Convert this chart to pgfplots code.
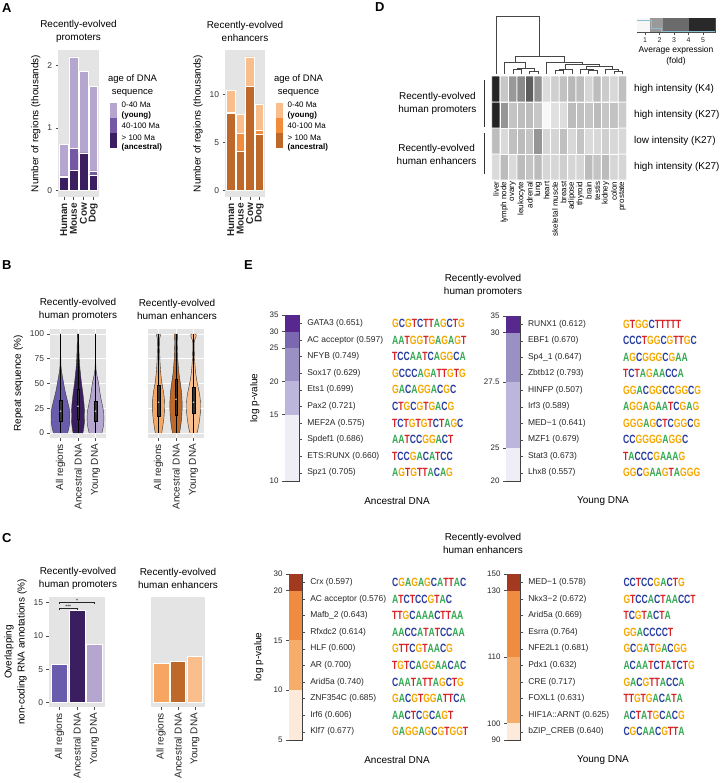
\documentclass[border=0pt]{standalone}
\usepackage{fontspec}
\setmainfont{Liberation Sans}
\newfontfamily\logofont[FakeStretch=0.72]{Liberation Sans}
\usepackage{pgfplots}
\pgfplotsset{compat=1.18}
\usepackage{pgfplotstable}

\newcommand\fs[1]{\fontsize{#1}{\fpeval{1.3*#1}}\selectfont}

\definecolor{panel}{HTML}{E4E4E4}
\definecolor{pY}{RGB}{180,166,206}
\definecolor{pM}{RGB}{117,88,165}
\definecolor{pA}{RGB}{58,30,96}
\definecolor{pAll}{RGB}{106,92,172}
\definecolor{eY}{RGB}{249,190,140}
\definecolor{eM}{RGB}{243,140,58}
\definecolor{eA}{RGB}{190,104,42}
\definecolor{eAll}{RGB}{247,166,98}
\definecolor{pb1}{HTML}{EFEDF5}
\definecolor{pb2}{HTML}{BCB6DC}
\definecolor{pb3}{HTML}{9A90C4}
\definecolor{pb4}{HTML}{7A69B0}
\definecolor{pb5}{HTML}{57298F}
\definecolor{eb1}{HTML}{FDEADB}
\definecolor{eb2}{HTML}{F6AD6C}
\definecolor{eb3}{HTML}{F08C3F}
\definecolor{eb4}{HTML}{A33A20}
\definecolor{lA}{RGB}{52,168,83}
\definecolor{lC}{RGB}{40,60,160}
\definecolor{lG}{RGB}{245,168,0}
\definecolor{lT}{RGB}{214,35,40}

% sequence logo letters
\newcommand\lgA{\textcolor{lA}{A}}
\newcommand\lgC{\textcolor{lC}{C}}
\newcommand\lgG{\textcolor{lG}{G}}
\newcommand\lgT{\textcolor{lT}{T}}
\def\lg#1{\ifx\relax#1\else\csname lg#1\endcsname\expandafter\lg\fi}

\tikzset{logo/.style={anchor=west, inner sep=0pt, font=\logofont\bfseries\fs{12}}}

\pgfplotsset{
  /pgf/number format/assume math mode=true,
  gg/.style={scale only axis, axis background/.style={fill=panel},
    axis line style={draw=none}, tick align=outside, tick pos=left,
    major tick length=2.5bp, tick style={gray!60!black, line width=0.5bp},
    yticklabel style={font=\fs{8.5}, text=gray!40!black},
    xticklabel style={rotate=90, anchor=east, font=\fs{10}, text=black!85},
    ylabel style={font=\fs{10}}},
  ebar/.style={scale only axis, ybar stacked, bar width=1, xmin=0, xmax=1,
    ymin=0, ymax=10, xtick=\empty, axis line style={gray!50!black, line width=0.6bp},
    tick align=outside, ytick pos=left, major tick length=3bp,
    tick style={gray!60!black, line width=0.4bp},
    yticklabel style={font=\fs{8}, text=gray!30!black},
    extra y ticks={0.5,1.5,2.5,3.5,4.5,5.5,6.5,7.5,8.5,9.5},
    extra y tick style={ytick pos=right, yticklabel pos=right,
      yticklabel style={font=\fs{8.5}, text=black!85, xshift=1.5bp}},
    clip=false,
    ylabel style={font=\fs{10}, at={(axis description cs:0,0.5)}, anchor=south, yshift=22bp}},
}

% violin half-widths (category units) against repeat sequence (%)
\pgfplotstableread{
y   pa    pn    py    ea    en    ey
0   0.40  0.28  0.36  0.18  0.20  0.20
5   0.48  0.33  0.43  0.23  0.25  0.27
10  0.52  0.36  0.47  0.27  0.29  0.32
15  0.53  0.37  0.48  0.31  0.32  0.36
20  0.53  0.37  0.47  0.33  0.34  0.39
25  0.50  0.36  0.43  0.34  0.35  0.40
30  0.43  0.34  0.37  0.34  0.35  0.40
35  0.36  0.31  0.31  0.33  0.34  0.38
40  0.29  0.28  0.26  0.30  0.32  0.34
45  0.23  0.24  0.22  0.25  0.29  0.28
50  0.18  0.20  0.18  0.20  0.25  0.22
55  0.13  0.17  0.12  0.16  0.21  0.17
60  0.08  0.14  0.06  0.13  0.17  0.13
65  0.04  0.11  0.025 0.11  0.14  0.10
70  0.02  0.09  0.015 0.09  0.12  0.08
75  0.018 0.07  0.013 0.08  0.10  0.06
80  0.015 0.06  0.012 0.07  0.09  0.05
85  0.013 0.05  0.011 0.06  0.08  0.04
90  0.012 0.045 0.010 0.05  0.07  0.04
93  0.011 0.042 0.010 0.045 0.07  0.05
95  0.011 0.04  0.010 0.06  0.08  0.09
97  0.010 0.04  0.010 0.09  0.10  0.14
99  0.010 0.04  0.010 0.11  0.10  0.16
100 0.010 0.04  0.010 0.08  0.09  0.10
}\violins

% one violin: #1 position, #2 column of half-widths, #3 colour
\newcommand\violin[3]{%
  \addplot[fill=#3, draw=none] table[x expr=#1+\thisrow{#2}, y=y] {\violins}
    -- (axis cs:#1,100) -- (axis cs:#1,0) -- cycle;
  \addplot[fill=#3, draw=none] table[x expr=#1-\thisrow{#2}, y=y] {\violins}
    -- (axis cs:#1,100) -- (axis cs:#1,0) -- cycle;
  \addplot[black!80, line width=0.4bp] table[x expr=#1+\thisrow{#2}, y=y] {\violins};
  \addplot[black!80, line width=0.4bp] table[x expr=#1-\thisrow{#2}, y=y] {\violins};
}
% box inside a violin: #1 position, #2 left, #3 right, #4 lower quartile, #5 median, #6 upper quartile
\newcommand\innerbox[6]{%
  \addplot[black, line width=0.3bp] coordinates {(#1,0) (#1,100)};
  \addplot[fill=black!80, draw=black, line width=0.3bp] coordinates
    {(#2,#4) (#3,#4) (#3,#6) (#2,#6)} -- cycle;
  \addplot[only marks, mark=*, mark size=0.6bp, gray!50] coordinates {(#1,#5)};
}

% heatmap: average expression (fold); rows 3 = K4 promoters ... 0 = K27 enhancers
\pgfplotstableread{
x y c
0 0 1.66
1 0 2.19
2 0 1.66
3 0 2.19
4 0 2.05
5 0 2.19
6 0 1.73
7 0 1.73
8 0 1.85
9 0 1.73
10 0 1.73
11 0 2.19
12 0 2.05
13 0 2.19
14 0 1.73
15 0 1.73
0 1 2.17
1 1 1.66
2 1 2.12
3 1 2.19
4 1 2.05
5 1 2.86
6 1 1.73
7 1 1.76
8 1 2.12
9 1 1.69
10 1 2.05
11 1 1.66
12 1 1.69
13 1 1.84
14 1 1.69
15 1 1.69
0 2 4.88
1 2 2.86
2 2 2.05
3 2 2.16
4 2 2.17
5 2 1.98
6 2 1.12
7 2 1.55
8 2 1.60
9 2 2.19
10 2 2.12
11 2 2.03
12 2 2.19
13 2 2.01
14 2 2.08
15 2 1.91
0 3 4.86
1 3 1.98
2 3 2.80
3 3 3.04
4 3 3.84
5 3 2.92
6 3 1.62
7 3 1.85
8 3 2.08
9 3 2.26
10 3 2.17
11 3 1.73
12 3 2.16
13 3 1.92
14 3 1.68
15 3 2.12
}\heat

\begin{document}
\begin{tikzpicture}
\path[use as bounding box] (0,0) rectangle (726bp,-783bp);

% panel letters
\node[anchor=north west, inner sep=0pt, font=\bfseries\fs{13}] at (2bp,-3bp) {A};
\node[anchor=north west, inner sep=0pt, font=\bfseries\fs{13}] at (2bp,-260bp) {B};
\node[anchor=north west, inner sep=0pt, font=\bfseries\fs{13}] at (2bp,-533bp) {C};
\node[anchor=north west, inner sep=0pt, font=\bfseries\fs{13}] at (375bp,-2bp) {D};
\node[anchor=north west, inner sep=0pt, font=\bfseries\fs{13}] at (244bp,-260bp) {E};

% ---------------- A ----------------
\node[align=center, font=\fs{10}] at (78.5bp,-31.5bp) {Recently-evolved\\promoters};
\node[align=center, font=\fs{10}] at (245bp,-31.5bp) {Recently-evolved\\enhancers};

\begin{axis}[gg, at={(58bp,-197bp)}, anchor=south west, width=41bp, height=147bp,
  ybar stacked, bar width=0.9, xmin=0.4, xmax=4.6, ymin=-0.107, ymax=2.25,
  xtick={1,2,3,4}, xticklabels={Human,Mouse,Cow,Dog},
  xticklabel style={font=\bfseries\fs{10}},
  ytick={0,1,2}, ylabel={Number of regions (thousands)}]
\addplot[fill=pA, draw=white, line width=0.3bp] coordinates {(1,0.21) (2,0.32) (3,0.60) (4,0.25)};
\addplot[fill=pM, draw=white, line width=0.3bp] coordinates {(1,0.02) (2,0.35) (3,0.00) (4,0.06)};
\addplot[fill=pY, draw=white, line width=0.3bp] coordinates {(1,0.51) (2,1.47) (3,1.31) (4,1.36)};
\end{axis}

\begin{axis}[gg, at={(225bp,-197bp)}, anchor=south west, width=40bp, height=147bp,
  ybar stacked, bar width=0.9, xmin=0.4, xmax=4.6, ymin=-0.695, ymax=14.6,
  xtick={1,2,3,4}, xticklabels={Human,Mouse,Cow,Dog},
  xticklabel style={font=\bfseries\fs{10}},
  ytick={0,5,10}, ylabel={Number of regions (thousands)}]
\addplot[fill=eA, draw=white, line width=0.3bp] coordinates {(1,8.0) (2,4.1) (3,10.8) (4,5.85)};
\addplot[fill=eM, draw=white, line width=0.3bp] coordinates {(1,0.1) (2,1.8) (3,0.0) (4,0.4)};
\addplot[fill=eY, draw=white, line width=0.3bp] coordinates {(1,2.3) (2,2.0) (3,3.1) (4,2.75)};
\end{axis}

% legends of A
\begin{scope}[shift={(109.5bp,-103bp)}]
  \node[align=center, font=\fs{9.5}] at (23bp,17.5bp) {age of DNA\\sequence};
  \fill[pY] (0,0) rectangle (7.5bp,-15bp);
  \fill[pM] (0,-15bp) rectangle (7.5bp,-30bp);
  \fill[pA] (0,-30bp) rectangle (7.5bp,-45bp);
  \node[anchor=west, font=\fs{8}, inner sep=0pt] at (12bp,-1.7bp) {0-40 Ma};
  \node[anchor=west, font=\bfseries\fs{8}, inner sep=0pt] at (12bp,-12bp) {(young)};
  \node[anchor=west, font=\fs{8}, inner sep=0pt] at (12bp,-23bp) {40-100 Ma};
  \node[anchor=west, font=\fs{8}, inner sep=0pt] at (12bp,-34.7bp) {> 100 Ma};
  \node[anchor=west, font=\bfseries\fs{8}, inner sep=0pt] at (12bp,-44.3bp) {(ancestral)};
\end{scope}
\begin{scope}[shift={(275.5bp,-103bp)}]
  \node[align=center, font=\fs{9.5}] at (23bp,17.5bp) {age of DNA\\sequence};
  \fill[eY] (0,0) rectangle (7.5bp,-15bp);
  \fill[eM] (0,-15bp) rectangle (7.5bp,-30bp);
  \fill[eA] (0,-30bp) rectangle (7.5bp,-45bp);
  \node[anchor=west, font=\fs{8}, inner sep=0pt] at (12bp,-1.7bp) {0-40 Ma};
  \node[anchor=west, font=\bfseries\fs{8}, inner sep=0pt] at (12bp,-12bp) {(young)};
  \node[anchor=west, font=\fs{8}, inner sep=0pt] at (12bp,-23bp) {40-100 Ma};
  \node[anchor=west, font=\fs{8}, inner sep=0pt] at (12bp,-34.7bp) {> 100 Ma};
  \node[anchor=west, font=\bfseries\fs{8}, inner sep=0pt] at (12bp,-44.3bp) {(ancestral)};
\end{scope}

% ---------------- B ----------------
\node[align=center, font=\fs{10}] at (78bp,-309bp) {Recently-evolved\\human promoters};
\node[align=center, font=\fs{10}] at (177bp,-309bp) {Recently-evolved\\human enhancers};

\begin{axis}[gg, at={(50bp,-438bp)}, anchor=south west, width=56bp, height=109bp,
  xmin=0.4, xmax=3.6, ymin=-5, ymax=105, grid=major,
  major grid style={white, line width=0.7bp},
  xtick={1,2,3}, xticklabels={All regions,Ancestral DNA,Young DNA},
  ytick={0,25,50,75,100}, ylabel={Repeat sequence (\%)}]
\violin{1}{pa}{pAll}
\violin{2}{pn}{pA}
\violin{3}{py}{pY}
\innerbox{1}{0.93}{1.07}{12}{22}{33}
\innerbox{2}{1.93}{2.07}{14}{27}{44}
\innerbox{3}{2.93}{3.07}{12}{22}{32}
\end{axis}

\begin{axis}[gg, at={(148bp,-438bp)}, anchor=south west, width=56bp, height=109bp,
  xmin=0.4, xmax=3.6, ymin=-5, ymax=105, grid=major,
  major grid style={white, line width=0.7bp},
  xtick={1,2,3}, xticklabels={All regions,Ancestral DNA,Young DNA},
  ytick={0,25,50,75,100}, yticklabels={}, ytick style={draw=none}]
\violin{1}{ea}{eAll}
\violin{2}{en}{eA}
\violin{3}{ey}{eY}
\innerbox{1}{0.93}{1.07}{17}{31}{48}
\innerbox{2}{1.93}{2.07}{18}{34}{54}
\innerbox{3}{2.93}{3.07}{20}{31}{46}
\end{axis}

% ---------------- C ----------------
\node[align=center, font=\fs{10}] at (78bp,-578bp) {Recently-evolved\\human promoters};
\node[align=center, font=\fs{10}] at (178bp,-578bp) {Recently-evolved\\human enhancers};

\begin{axis}[gg, at={(49bp,-707bp)}, anchor=south west, width=56bp, height=110bp,
  xmin=0.4, xmax=3.6, ymin=-0.65, ymax=15.85, ybar, bar width=0.9, clip=false,
  xtick={1,2,3}, xticklabels={All regions,Ancestral DNA,Young DNA},
  ytick={0,5,10,15},
  ylabel={Overlapping\\non-coding RNA annotations (\%)}, ylabel style={align=center}]
\addplot[fill=pAll, draw=white, line width=0.4bp, bar shift=0pt] coordinates {(1,5.7)};
\addplot[fill=pA, draw=white, line width=0.4bp, bar shift=0pt] coordinates {(2,13.9)};
\addplot[fill=pY, draw=white, line width=0.4bp, bar shift=0pt] coordinates {(3,8.7)};
\draw[gray!30!black, line width=0.4bp] (axis cs:1,13.85) |- (axis cs:2,14.15) -- (axis cs:2,13.95);
\draw[gray!30!black, line width=0.4bp] (axis cs:1,14.75) |- (axis cs:3,15.05) -- (axis cs:3,14.75);
\node[font=\fs{5}, inner sep=0pt] at (axis cs:1.5,14.45) {***};
\node[font=\fs{5}, inner sep=0pt] at (axis cs:2,15.35) {*};
\end{axis}

\begin{axis}[gg, at={(151bp,-707bp)}, anchor=south west, width=54bp, height=110bp,
  xmin=0.4, xmax=3.6, ymin=-0.65, ymax=15.85, ybar, bar width=0.9,
  xtick={1,2,3}, xticklabels={All regions,Ancestral DNA,Young DNA},
  ytick={0,5,10,15}, yticklabels={}, ytick style={draw=none}]
\addplot[fill=eAll, draw=white, line width=0.4bp, bar shift=0pt] coordinates {(1,5.85)};
\addplot[fill=eA, draw=white, line width=0.4bp, bar shift=0pt] coordinates {(2,6.15)};
\addplot[fill=eY, draw=white, line width=0.4bp, bar shift=0pt] coordinates {(3,7.0)};
\end{axis}

% ---------------- D ----------------
\begin{axis}[scale only axis, at={(491.7bp,-180bp)}, anchor=south west,
  width=135bp, height=104bp, xmin=-0.5, xmax=15.5, ymin=-0.5, ymax=3.5,
  enlargelimits=false, clip=false, axis line style={draw=none},
  major tick length=0pt,
  xtick={0,...,15},
  xticklabels={liver,lymph node,ovary,leukocyte,adrenal,lung,heart,skeletal muscle,breast,adipose,thyroid,brain,testis,kidney,colon,prostate},
  xticklabel style={rotate=90, anchor=east, font=\fs{8}, inner sep=1.5bp},
  ytick={0,1,2,3},
  yticklabels={high intensity (K27),low intensity (K27),high intensity (K27),high intensity (K4)},
  ytick pos=right, yticklabel pos=right,
  yticklabel style={font=\fs{10}, xshift=4bp},
  colormap={hm}{rgb255=(255,255,255) rgb255=(30,30,30)},
  point meta min=1, point meta max=5]
\addplot[matrix plot*, mesh/cols=16, point meta=explicit, draw=white, line width=0.8bp]
  table[x=x, y=y, meta=c] {\heat};
% dendrogram of tissues
\addplot[gray!55!black, line width=0.5bp, unbounded coords=jump] table {
x y
0 3.58
0 5.78
5.19 5.78
5.19 4.27
nan nan
2.25 4.01
2.25 4.27
8.125 4.27
8.125 4.01
nan nan
1 3.58
1 4.01
3.5 4.01
3.5 3.80
nan nan
2.5 3.75
2.5 3.80
4.5 3.80
4.5 3.70
nan nan
2 3.58
2 3.75
3 3.75
3 3.58
nan nan
4 3.58
4 3.70
5 3.70
5 3.58
nan nan
6 3.58
6 4.01
10.25 4.01
10.25 3.96
nan nan
8.25 3.77
8.25 3.96
12.25 3.96
12.25 3.86
nan nan
7.5 3.73
7.5 3.77
9 3.77
9 3.58
nan nan
7 3.58
7 3.73
8 3.73
8 3.58
nan nan
10.75 3.77
10.75 3.86
13.75 3.86
13.75 3.75
nan nan
10 3.58
10 3.77
11.5 3.77
11.5 3.71
nan nan
11 3.58
11 3.71
12 3.71
12 3.58
nan nan
13 3.58
13 3.75
14.5 3.75
14.5 3.69
nan nan
14 3.58
14 3.69
15 3.69
15 3.58
};
\end{axis}

\node[align=center, anchor=east, font=\fs{10}] at (480bp,-103bp) {Recently-evolved\\human promoters};
\node[align=center, anchor=east, font=\fs{10}] at (480bp,-154bp) {Recently-evolved\\human enhancers};
\draw[gray!40!black, line width=0.6bp] (484bp,-80bp) -- (484bp,-126.7bp);
\draw[gray!40!black, line width=0.6bp] (484bp,-132.7bp) -- (484bp,-174bp);

% colour key
\begin{axis}[scale only axis, at={(637bp,-32bp)}, anchor=south west, width=78bp, height=14bp,
  xmin=0.45, xmax=5.83, ymin=0, ymax=1, ytick=\empty, xtick={1,2,3,4,5},
  tick align=outside, tick pos=left, major tick length=2.5bp,
  tick style={gray!60!black, line width=0.4bp},
  xticklabel style={font=\fs{7}, text=gray!30!black},
  xlabel={Average expression\\(fold)}, xlabel style={align=center, font=\fs{8.5}, yshift=3bp},
  axis line style={gray!60!black, line width=0.4bp}]
\addplot[fill=gray!6, draw=none] coordinates {(0.45,1) (1.35,1)} \closedcycle;
\addplot[fill=black!40, draw=none] coordinates {(1.35,1) (2.26,1)} \closedcycle;
\addplot[fill=black!58, draw=none] coordinates {(2.26,1) (4.05,1)} \closedcycle;
\addplot[fill=black!84, draw=none] coordinates {(4.05,1) (5.83,1)} \closedcycle;
\addplot[cyan!50!gray!70, line width=0.5bp] coordinates {(0.45,0.85) (1.45,0.85) (1.45,0.25) (2.1,0.25) (2.1,0.05) (5.83,0.05)};
\end{axis}

% ---------------- E ----------------
\node[align=center, font=\fs{10}] at (483bp,-285bp) {Recently-evolved\\human promoters};
\node[align=center, font=\fs{10}] at (483bp,-543bp) {Recently-evolved\\human enhancers};
\node[font=\fs{10}] at (397bp,-501bp) {Ancestral DNA};
\node[font=\fs{10}] at (603bp,-501bp) {Young DNA};
\node[font=\fs{10}] at (397bp,-760bp) {Ancestral DNA};
\node[font=\fs{10}] at (603bp,-760bp) {Young DNA};

% promoters, ancestral DNA
\begin{axis}[ebar, at={(285bp,-481bp)}, anchor=south west, width=14.3bp, height=166bp,
  ytick={0,4,6,8,9,10}, yticklabels={10,15,20,25,30,35}, ylabel={log p-value},
  extra y tick labels={Spz1 (0.705),ETS:RUNX (0.660),Spdef1 (0.686),MEF2A (0.575),Pax2 (0.721),Ets1 (0.699),Sox17 (0.629),NFYB (0.749),AC acceptor (0.597),GATA3 (0.651)}]
\addplot[fill=pb1, draw=none] coordinates {(0.5,4)};
\addplot[fill=pb2, draw=none] coordinates {(0.5,2)};
\addplot[fill=pb3, draw=none] coordinates {(0.5,2)};
\addplot[fill=pb4, draw=none] coordinates {(0.5,1)};
\addplot[fill=pb5, draw=none] coordinates {(0.5,1)};
\node[logo, xshift=92.7bp] at (axis cs:1,9.5) {\lg GCGTCTTAGCTG\relax};
\node[logo, xshift=92.7bp] at (axis cs:1,8.5) {\lg AATGGTGAGAGT\relax};
\node[logo, xshift=92.7bp] at (axis cs:1,7.5) {\lg TCCAATCAGGCA\relax};
\node[logo, xshift=92.7bp] at (axis cs:1,6.5) {\lg GCCCAGATTGTG\relax};
\node[logo, xshift=92.7bp] at (axis cs:1,5.5) {\lg GACAGGACGC\relax};
\node[logo, xshift=92.7bp] at (axis cs:1,4.5) {\lg CTGCGTGACG\relax};
\node[logo, xshift=92.7bp] at (axis cs:1,3.5) {\lg TCTGTGTCTAGC\relax};
\node[logo, xshift=92.7bp] at (axis cs:1,2.5) {\lg AATCCGGACT\relax};
\node[logo, xshift=92.7bp] at (axis cs:1,1.5) {\lg TCCGACATCC\relax};
\node[logo, xshift=92.7bp] at (axis cs:1,0.5) {\lg AGTGTTACAG\relax};
\end{axis}

% promoters, young DNA
\begin{axis}[ebar, at={(506bp,-481bp)}, anchor=south west, width=14bp, height=165bp,
  ytick={0,2,6,9,10}, yticklabels={20,25,27.5,30,35},
  extra y tick labels={Lhx8 (0.557),Stat3 (0.673),MZF1 (0.679),MED−1 (0.641),Irf3 (0.589),HINFP (0.507),Zbtb12 (0.793),Sp4\_1 (0.647),EBF1 (0.670),RUNX1 (0.612)}]
\addplot[fill=pb1, draw=none] coordinates {(0.5,2)};
\addplot[fill=pb2, draw=none] coordinates {(0.5,4)};
\addplot[fill=pb3, draw=none] coordinates {(0.5,3)};
\addplot[fill=pb5, draw=none] coordinates {(0.5,1)};
\node[logo, xshift=103bp] at (axis cs:1,9.5) {\lg GTGGCTTTTT\relax};
\node[logo, xshift=103bp] at (axis cs:1,8.5) {\lg CCCTGGCGTTGC\relax};
\node[logo, xshift=103bp] at (axis cs:1,7.5) {\lg AGCGGGCGAA\relax};
\node[logo, xshift=103bp] at (axis cs:1,6.5) {\lg TCTAGAACCA\relax};
\node[logo, xshift=103bp] at (axis cs:1,5.5) {\lg GGACGGCCGGCG\relax};
\node[logo, xshift=103bp] at (axis cs:1,4.5) {\lg AGGAGAATCGAG\relax};
\node[logo, xshift=103bp] at (axis cs:1,3.5) {\lg GGGAGCTCGGCG\relax};
\node[logo, xshift=103bp] at (axis cs:1,2.5) {\lg CCGGGGAGGC\relax};
\node[logo, xshift=103bp] at (axis cs:1,1.5) {\lg TACCCGAAAG\relax};
\node[logo, xshift=103bp] at (axis cs:1,0.5) {\lg GGCGAAGTAGGG\relax};
\end{axis}

% enhancers, ancestral DNA
\begin{axis}[ebar, at={(289bp,-740bp)}, anchor=south west, width=13.3bp, height=166bp,
  ytick={0,3,6,9,10}, yticklabels={5,10,15,20,30}, ylabel={log p-value},
  extra y tick labels={Klf7 (0.677),Irf6 (0.606),ZNF354C (0.685),Arid5a (0.740),AR (0.700),HLF (0.600),Rfxdc2 (0.614),Mafb\_2 (0.643),AC acceptor (0.576),Crx (0.597)}]
\addplot[fill=eb1, draw=none] coordinates {(0.5,3)};
\addplot[fill=eb2, draw=none] coordinates {(0.5,3)};
\addplot[fill=eb3, draw=none] coordinates {(0.5,3)};
\addplot[fill=eb4, draw=none] coordinates {(0.5,1)};
\node[logo, xshift=89.7bp] at (axis cs:1,9.5) {\lg CGAGAGCATTAC\relax};
\node[logo, xshift=89.7bp] at (axis cs:1,8.5) {\lg ATCTCCGTAC\relax};
\node[logo, xshift=89.7bp] at (axis cs:1,7.5) {\lg TTGCAAACTTAA\relax};
\node[logo, xshift=89.7bp] at (axis cs:1,6.5) {\lg AACCATATCCAA\relax};
\node[logo, xshift=89.7bp] at (axis cs:1,5.5) {\lg GTTCGTAACG\relax};
\node[logo, xshift=89.7bp] at (axis cs:1,4.5) {\lg TGTCAGGAACAC\relax};
\node[logo, xshift=89.7bp] at (axis cs:1,3.5) {\lg CAATATTAGCTG\relax};
\node[logo, xshift=89.7bp] at (axis cs:1,2.5) {\lg GACGTGGATTCA\relax};
\node[logo, xshift=89.7bp] at (axis cs:1,1.5) {\lg AACTCGCAGT\relax};
\node[logo, xshift=89.7bp] at (axis cs:1,0.5) {\lg GAGGAGCGTGGT\relax};
\end{axis}

% enhancers, young DNA
\begin{axis}[ebar, at={(507bp,-740bp)}, anchor=south west, width=13.3bp, height=166bp,
  ytick={0,1,5,9,10}, yticklabels={90,100,110,130,150},
  extra y tick labels={bZIP\_CREB (0.640),HIF1A::ARNT (0.625),FOXL1 (0.631),CRE (0.717),Pdx1 (0.632),NFE2L1 (0.681),Esrra (0.764),Arid5a (0.669),Nkx3−2 (0.672),MED−1 (0.578)}]
\addplot[fill=eb1, draw=none] coordinates {(0.5,1)};
\addplot[fill=eb2, draw=none] coordinates {(0.5,4)};
\addplot[fill=eb3, draw=none] coordinates {(0.5,4)};
\addplot[fill=eb4, draw=none] coordinates {(0.5,1)};
\node[logo, xshift=103bp] at (axis cs:1,9.5) {\lg CCTCCGACTG\relax};
\node[logo, xshift=103bp] at (axis cs:1,8.5) {\lg GTCCACTAACCT\relax};
\node[logo, xshift=103bp] at (axis cs:1,7.5) {\lg TCGTACTA\relax};
\node[logo, xshift=103bp] at (axis cs:1,6.5) {\lg GGACCCCT\relax};
\node[logo, xshift=103bp] at (axis cs:1,5.5) {\lg GCGATGACGG\relax};
\node[logo, xshift=103bp] at (axis cs:1,4.5) {\lg ACAATCTATCTG\relax};
\node[logo, xshift=103bp] at (axis cs:1,3.5) {\lg GACGTTACCA\relax};
\node[logo, xshift=103bp] at (axis cs:1,2.5) {\lg TTGTGACATA\relax};
\node[logo, xshift=103bp] at (axis cs:1,1.5) {\lg ACTATGCACG\relax};
\node[logo, xshift=103bp] at (axis cs:1,0.5) {\lg CGCAACGTTA\relax};
\end{axis}

\end{tikzpicture}
\end{document}
